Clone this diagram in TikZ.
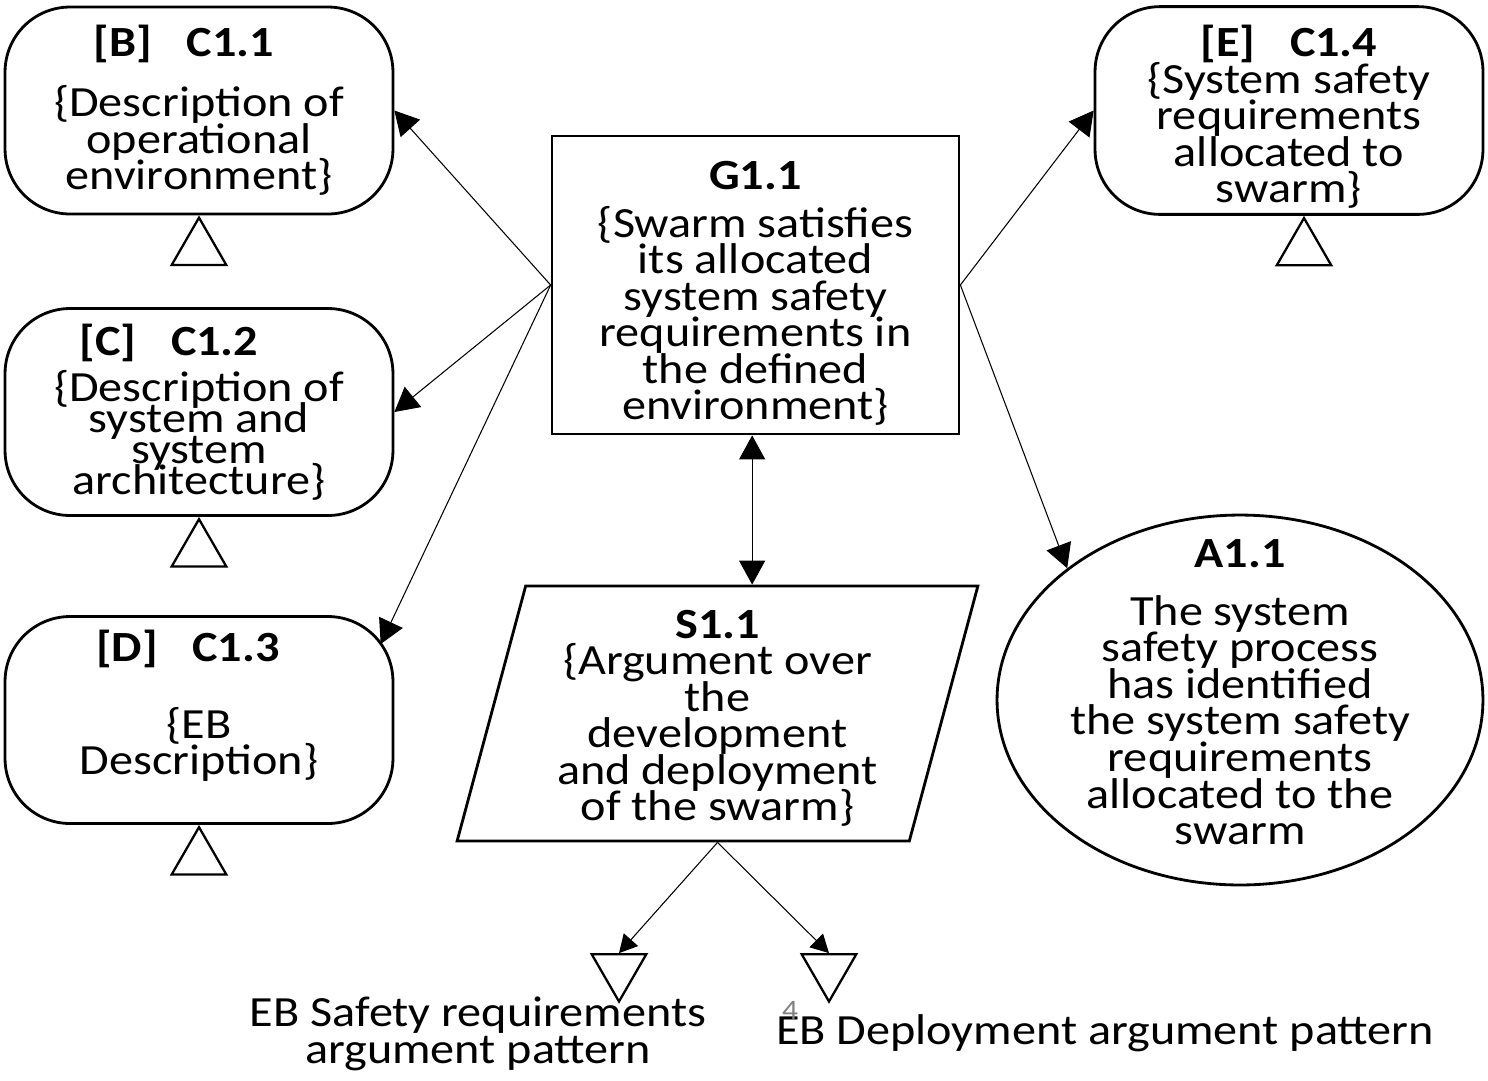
\documentclass[tikz,border=0pt]{standalone}
\usepackage{fontspec}
\setmainfont{Carlito}[FakeStretch=1.12]
\usetikzlibrary{positioning,shapes.geometric,arrows.meta}

\newcommand{\gsnfont}{\fontsize{24.5pt}{20.8pt}\selectfont\lineskiplimit=-50pt\relax}
\newcommand{\gsntight}{\fontsize{24.5pt}{17.6pt}\selectfont\lineskiplimit=-50pt\relax}
\newcommand{\padtop}[1]{\rule{0pt}{#1}}
\newcommand{\padbot}[1]{\rule[-#1]{0pt}{#1}}
\newcommand{\ctxtitle}[3]{\textbf{[#1]\hspace{0.8em}#2}\hspace*{#3}}

\tikzset{
  ctxbox/.style={draw, line width=1.6pt, rounded corners=1.3cm, minimum width=7.76cm, minimum height=4.14cm, align=center, font=\gsnfont},
  goalbox/.style={draw, line width=1.6pt, minimum width=8.14cm, minimum height=5.96cm, align=center, font=\gsnfont},
  stratbox/.style={draw, line width=1.6pt, trapezium, trapezium left angle=76, trapezium right angle=104, trapezium stretches=true, minimum width=10.42cm, minimum height=5.1cm, align=center, font=\gsnfont},
  assumpbox/.style={draw, line width=1.6pt, ellipse, inner sep=-1cm, minimum width=9.72cm, minimum height=7.4cm, align=center, font=\gsnfont},
  uptri/.style={draw, line width=1.3pt, regular polygon, regular polygon sides=3, minimum size=1.26cm, inner sep=0pt},
  downtri/.style={uptri, regular polygon rotate=180},
  arr/.style={line width=0.6pt, -{Triangle[length=0.48cm,width=0.52cm]}},
  smallarr/.style={line width=0.6pt, -{Triangle[length=0.36cm,width=0.38cm]}},
}

\begin{document}
\begin{tikzpicture}[x=0.02cm, y=-0.02cm]
\useasboundingbox (0,0) rectangle (1488,1080);

% context nodes
\node[ctxbox] (c11) at (199,110.5) {\ctxtitle{B}{C1.1}{0.6cm}\\[13.4pt] \{Description of\\operational\\environment\}};
\node[ctxbox, font=\gsntight] (c12) at (199,412) {\ctxtitle{C}{C1.2}{1.2cm}\\[9pt] \{Description of\\system and\\system\\architecture\}};
\node[ctxbox] (c13) at (199,720) {\ctxtitle{D}{C1.3}{0.45cm}\\[23pt] \{EB\\Description\}\padbot{0.7cm}};
\node[ctxbox] (c14) at (1289,110.5) {\padtop{0.88cm}\ctxtitle{E}{C1.4}{0cm}\\\{System safety\\requirements\\allocated to\\swarm\}};

\node[uptri, below=0pt of c11] (t11) {};
\node[uptri, below=0pt of c12] (t12) {};
\node[uptri, below=0pt of c13] (t13) {};
\node[uptri, below=0pt of c14, xshift=0.3cm] (t14) {};

% goal, strategy, assumption
\node[goalbox] (g11) at (755.5,285) {\padtop{0.91cm}\textbf{G1.1}\\[6pt] \{Swarm satisfies\\its allocated\\system safety\\requirements in\\the defined\\environment\}};
\node[stratbox] (s11) at (717.5,713.5) {\padtop{0.76cm}\textbf{S1.1}\\\{Argument over\\the\\development\\and deployment\\of the swarm\}};
\node[assumpbox] (a11) at (1240,700) {\textbf{A1.1}\\[12.2pt] The system\\safety process\\has identified\\the system safety\\requirements\\allocated to the\\swarm\padbot{0.32cm}};

% away modules
\node[downtri] (m1) at (619,970) {};
\node[downtri] (m2) at (829,970) {};
\node[font=\gsnfont, align=center] (m1lbl) at (478,1034) {EB Safety requirements\\argument pattern};
\node[font=\gsnfont] (m2lbl) at (1105,1033) {EB Deployment argument pattern};
\node[font=\fontsize{16pt}{16pt}\selectfont, text=gray] (pgnum) at (790,1010) {4};

% connectors
\draw[arr] (g11.west) -- (c11.east);
\draw[arr] (g11.west) -- (c12.east);
\draw[arr, shorten >=-0.64cm] (g11.west) -- (c13.north east);
\draw[arr] (g11.east) -- (c14.west);
\draw[arr] (g11.east) -- (a11.north west);
\draw[line width=0.6pt, {Triangle[length=0.48cm,width=0.52cm]}-{Triangle[length=0.48cm,width=0.52cm]}] (s11.top side) -- (s11.top side |- g11.south);
\draw[smallarr] (s11.south) -- (m1.north);
\draw[smallarr] (s11.south) -- (m2.north);
\end{tikzpicture}
\end{document}
